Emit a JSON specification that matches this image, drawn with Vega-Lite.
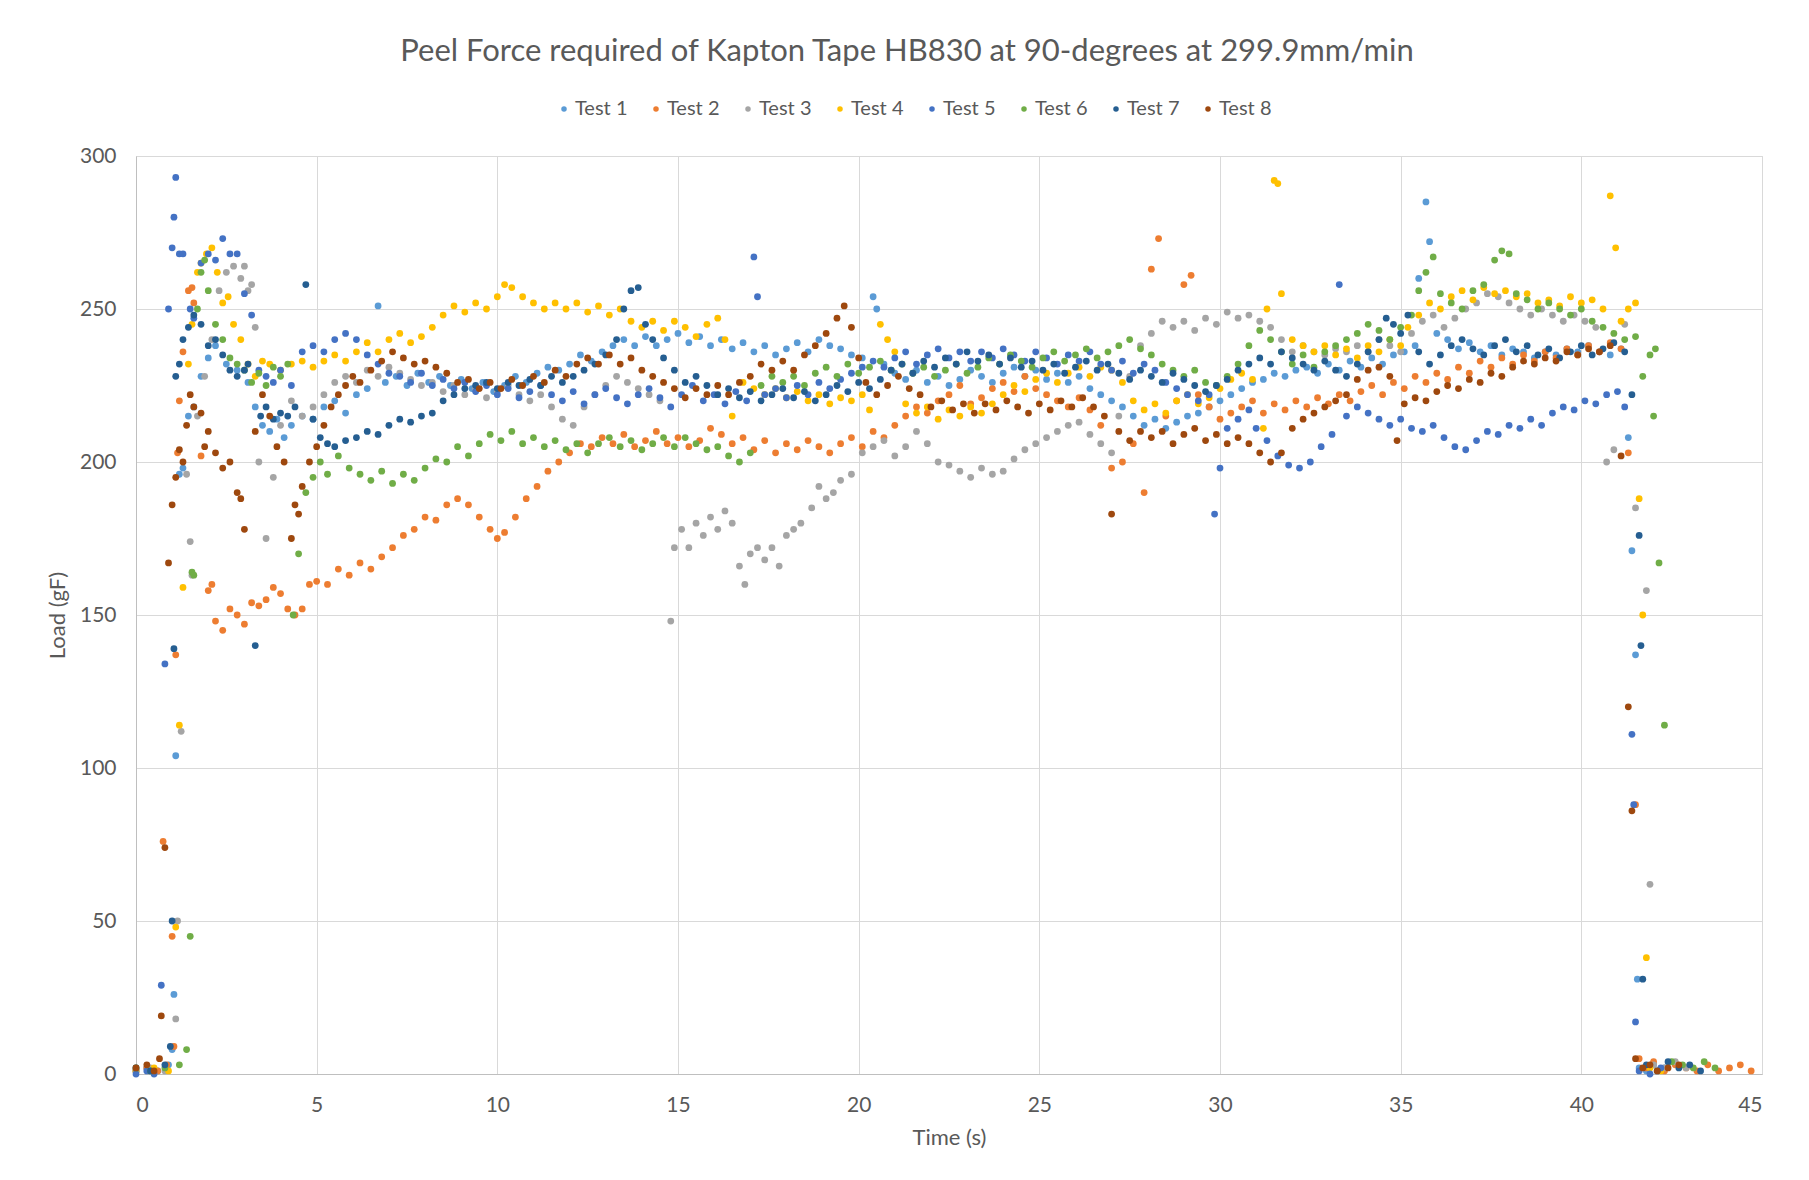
{
"$schema": "https://vega.github.io/schema/vega-lite/v6.json",
"width": 1626, "height": 918,
"autosize": {"type": "none"},
"padding": {"left": 136, "top": 156, "right": 47, "bottom": 106},
"background": "white",
"title": {"text": "Peel Force required of Kapton Tape HB830 at 90-degrees at 299.9mm/min", "anchor": "middle", "frame": "group", "dx": -42, "offset": 31, "font": "Lato", "fontSize": 31, "fontWeight": "normal", "color": "#595959"},
"config": {
 "view": {"stroke": "#D9D9D9"},
 "font": "Lato",
 "axis": {"labelFont": "Lato", "titleFont": "Lato", "labelFontSize": 21, "titleFontSize": 22, "labelColor": "#595959", "titleColor": "#595959", "titleFontWeight": "normal", "ticks": false, "grid": true, "gridColor": "#D9D9D9", "domainColor": "#BFBFBF"}
},
"data": {"values": [
{"s":1,"t":0,"v":1},{"s":1,"t":0.3,"v":2},{"s":1,"t":0.6,"v":1},{"s":1,"t":0.9,"v":3},{"s":1,"t":1.0,"v":8},{"s":1,"t":1.05,"v":26},{"s":1,"t":1.1,"v":104},{"s":1,"t":1.2,"v":196},{"s":1,"t":1.3,"v":198},{"s":1,"t":1.45,"v":215},{"s":1,"t":1.6,"v":218},{"s":1,"t":1.8,"v":228},{"s":1,"t":2.0,"v":234},{"s":1,"t":2.2,"v":238},{"s":1,"t":2.5,"v":232},{"s":1,"t":2.8,"v":230},{"s":1,"t":3.1,"v":226},{"s":1,"t":3.3,"v":218},{"s":1,"t":3.5,"v":212},{"s":1,"t":3.7,"v":210},{"s":1,"t":3.9,"v":214},{"s":1,"t":4.1,"v":208},{"s":1,"t":4.3,"v":212},{"s":1,"t":4.6,"v":215},{"s":1,"t":4.9,"v":214},{"s":1,"t":5.2,"v":218},{"s":1,"t":5.5,"v":220},{"s":1,"t":5.8,"v":216},{"s":1,"t":6.1,"v":222},{"s":1,"t":6.4,"v":224},{"s":1,"t":6.7,"v":251},{"s":1,"t":6.9,"v":226},{"s":1,"t":7.2,"v":228},{"s":1,"t":7.5,"v":225},{"s":1,"t":7.8,"v":229},{"s":1,"t":8.1,"v":226},{"s":1,"t":8.4,"v":228},{"s":1,"t":8.7,"v":225},{"s":1,"t":9.0,"v":227},{"s":1,"t":9.3,"v":224},{"s":1,"t":9.6,"v":226},{"s":1,"t":9.9,"v":223},{"s":1,"t":10.2,"v":225},{"s":1,"t":10.5,"v":228},{"s":1,"t":10.8,"v":226},{"s":1,"t":11.1,"v":229},{"s":1,"t":11.4,"v":231},{"s":1,"t":11.7,"v":230},{"s":1,"t":12.0,"v":232},{"s":1,"t":12.3,"v":235},{"s":1,"t":12.6,"v":233},{"s":1,"t":12.9,"v":236},{"s":1,"t":13.2,"v":238},{"s":1,"t":13.5,"v":240},{"s":1,"t":13.8,"v":238},{"s":1,"t":14.1,"v":241},{"s":1,"t":14.4,"v":238},{"s":1,"t":14.7,"v":240},{"s":1,"t":15.0,"v":242},{"s":1,"t":15.3,"v":239},{"s":1,"t":15.6,"v":241},{"s":1,"t":15.9,"v":238},{"s":1,"t":16.2,"v":240},{"s":1,"t":16.5,"v":237},{"s":1,"t":16.8,"v":239},{"s":1,"t":17.1,"v":236},{"s":1,"t":17.4,"v":238},{"s":1,"t":17.7,"v":235},{"s":1,"t":18.0,"v":237},{"s":1,"t":18.3,"v":239},{"s":1,"t":18.6,"v":236},{"s":1,"t":18.9,"v":240},{"s":1,"t":19.2,"v":238},{"s":1,"t":19.5,"v":237},{"s":1,"t":19.8,"v":235},{"s":1,"t":20.1,"v":234},{"s":1,"t":20.4,"v":254},{"s":1,"t":20.5,"v":250},{"s":1,"t":20.7,"v":232},{"s":1,"t":21.0,"v":229},{"s":1,"t":21.3,"v":227},{"s":1,"t":21.6,"v":230},{"s":1,"t":21.9,"v":226},{"s":1,"t":22.2,"v":228},{"s":1,"t":22.5,"v":225},{"s":1,"t":22.8,"v":227},{"s":1,"t":23.1,"v":230},{"s":1,"t":23.4,"v":228},{"s":1,"t":23.7,"v":226},{"s":1,"t":24.0,"v":229},{"s":1,"t":24.3,"v":231},{"s":1,"t":24.6,"v":228},{"s":1,"t":24.9,"v":230},{"s":1,"t":25.2,"v":227},{"s":1,"t":25.5,"v":229},{"s":1,"t":25.8,"v":226},{"s":1,"t":26.1,"v":228},{"s":1,"t":26.4,"v":224},{"s":1,"t":26.7,"v":222},{"s":1,"t":27.0,"v":220},{"s":1,"t":27.3,"v":218},{"s":1,"t":27.6,"v":215},{"s":1,"t":27.9,"v":212},{"s":1,"t":28.2,"v":214},{"s":1,"t":28.5,"v":211},{"s":1,"t":28.8,"v":213},{"s":1,"t":29.1,"v":215},{"s":1,"t":29.4,"v":216},{"s":1,"t":29.7,"v":218},{"s":1,"t":30.0,"v":220},{"s":1,"t":30.3,"v":222},{"s":1,"t":30.6,"v":224},{"s":1,"t":30.9,"v":226},{"s":1,"t":31.2,"v":227},{"s":1,"t":31.5,"v":229},{"s":1,"t":31.8,"v":228},{"s":1,"t":32.1,"v":230},{"s":1,"t":32.4,"v":231},{"s":1,"t":32.7,"v":229},{"s":1,"t":33.0,"v":232},{"s":1,"t":33.3,"v":230},{"s":1,"t":33.6,"v":233},{"s":1,"t":33.9,"v":231},{"s":1,"t":34.2,"v":234},{"s":1,"t":34.5,"v":232},{"s":1,"t":34.8,"v":235},{"s":1,"t":35.1,"v":236},{"s":1,"t":35.4,"v":238},{"s":1,"t":35.5,"v":260},{"s":1,"t":35.7,"v":285},{"s":1,"t":35.8,"v":272},{"s":1,"t":36.0,"v":242},{"s":1,"t":36.3,"v":240},{"s":1,"t":36.6,"v":237},{"s":1,"t":36.9,"v":239},{"s":1,"t":37.2,"v":236},{"s":1,"t":37.5,"v":238},{"s":1,"t":37.8,"v":235},{"s":1,"t":38.1,"v":237},{"s":1,"t":38.4,"v":236},{"s":1,"t":38.7,"v":234},{"s":1,"t":39.0,"v":236},{"s":1,"t":39.3,"v":235},{"s":1,"t":39.6,"v":237},{"s":1,"t":39.9,"v":236},{"s":1,"t":40.2,"v":238},{"s":1,"t":40.5,"v":236},{"s":1,"t":40.8,"v":235},{"s":1,"t":41.1,"v":237},{"s":1,"t":41.3,"v":208},{"s":1,"t":41.4,"v":171},{"s":1,"t":41.5,"v":137},{"s":1,"t":41.55,"v":31},{"s":1,"t":41.6,"v":2},{"s":1,"t":41.8,"v":1},{"s":1,"t":42.0,"v":3},{"s":1,"t":42.3,"v":2},
{"s":2,"t":0,"v":1},{"s":2,"t":0.3,"v":2},{"s":2,"t":0.6,"v":1},{"s":2,"t":0.75,"v":76},{"s":2,"t":0.85,"v":3},{"s":2,"t":1.0,"v":45},{"s":2,"t":1.05,"v":9},{"s":2,"t":1.1,"v":137},{"s":2,"t":1.15,"v":203},{"s":2,"t":1.2,"v":220},{"s":2,"t":1.3,"v":236},{"s":2,"t":1.45,"v":256},{"s":2,"t":1.55,"v":257},{"s":2,"t":1.6,"v":252},{"s":2,"t":1.8,"v":202},{"s":2,"t":2.0,"v":158},{"s":2,"t":2.1,"v":160},{"s":2,"t":2.2,"v":148},{"s":2,"t":2.4,"v":145},{"s":2,"t":2.6,"v":152},{"s":2,"t":2.8,"v":150},{"s":2,"t":3.0,"v":147},{"s":2,"t":3.2,"v":154},{"s":2,"t":3.4,"v":153},{"s":2,"t":3.6,"v":155},{"s":2,"t":3.8,"v":159},{"s":2,"t":4.0,"v":157},{"s":2,"t":4.2,"v":152},{"s":2,"t":4.4,"v":150},{"s":2,"t":4.6,"v":152},{"s":2,"t":4.8,"v":160},{"s":2,"t":5.0,"v":161},{"s":2,"t":5.3,"v":160},{"s":2,"t":5.6,"v":165},{"s":2,"t":5.9,"v":163},{"s":2,"t":6.2,"v":167},{"s":2,"t":6.5,"v":165},{"s":2,"t":6.8,"v":169},{"s":2,"t":7.1,"v":172},{"s":2,"t":7.4,"v":176},{"s":2,"t":7.7,"v":178},{"s":2,"t":8.0,"v":182},{"s":2,"t":8.3,"v":181},{"s":2,"t":8.6,"v":186},{"s":2,"t":8.9,"v":188},{"s":2,"t":9.2,"v":186},{"s":2,"t":9.5,"v":182},{"s":2,"t":9.8,"v":178},{"s":2,"t":10.0,"v":175},{"s":2,"t":10.2,"v":177},{"s":2,"t":10.5,"v":182},{"s":2,"t":10.8,"v":188},{"s":2,"t":11.1,"v":192},{"s":2,"t":11.4,"v":197},{"s":2,"t":11.7,"v":200},{"s":2,"t":12.0,"v":203},{"s":2,"t":12.3,"v":206},{"s":2,"t":12.6,"v":205},{"s":2,"t":12.9,"v":208},{"s":2,"t":13.2,"v":206},{"s":2,"t":13.5,"v":209},{"s":2,"t":13.8,"v":205},{"s":2,"t":14.1,"v":207},{"s":2,"t":14.4,"v":210},{"s":2,"t":14.7,"v":206},{"s":2,"t":15.0,"v":208},{"s":2,"t":15.3,"v":205},{"s":2,"t":15.6,"v":207},{"s":2,"t":15.9,"v":211},{"s":2,"t":16.2,"v":209},{"s":2,"t":16.5,"v":206},{"s":2,"t":16.8,"v":208},{"s":2,"t":17.1,"v":204},{"s":2,"t":17.4,"v":207},{"s":2,"t":17.7,"v":203},{"s":2,"t":18.0,"v":206},{"s":2,"t":18.3,"v":204},{"s":2,"t":18.6,"v":207},{"s":2,"t":18.9,"v":205},{"s":2,"t":19.2,"v":203},{"s":2,"t":19.5,"v":206},{"s":2,"t":19.8,"v":208},{"s":2,"t":20.1,"v":205},{"s":2,"t":20.4,"v":210},{"s":2,"t":20.7,"v":208},{"s":2,"t":21.0,"v":212},{"s":2,"t":21.3,"v":215},{"s":2,"t":21.6,"v":218},{"s":2,"t":21.9,"v":216},{"s":2,"t":22.2,"v":220},{"s":2,"t":22.5,"v":222},{"s":2,"t":22.8,"v":225},{"s":2,"t":23.1,"v":219},{"s":2,"t":23.4,"v":221},{"s":2,"t":23.7,"v":224},{"s":2,"t":24.0,"v":226},{"s":2,"t":24.3,"v":223},{"s":2,"t":24.6,"v":228},{"s":2,"t":24.9,"v":224},{"s":2,"t":25.2,"v":222},{"s":2,"t":25.5,"v":220},{"s":2,"t":25.8,"v":218},{"s":2,"t":26.1,"v":221},{"s":2,"t":26.4,"v":217},{"s":2,"t":26.7,"v":212},{"s":2,"t":27.0,"v":198},{"s":2,"t":27.3,"v":200},{"s":2,"t":27.6,"v":206},{"s":2,"t":27.9,"v":190},{"s":2,"t":28.1,"v":263},{"s":2,"t":28.3,"v":273},{"s":2,"t":28.5,"v":215},{"s":2,"t":28.8,"v":220},{"s":2,"t":29.0,"v":258},{"s":2,"t":29.2,"v":261},{"s":2,"t":29.4,"v":222},{"s":2,"t":29.7,"v":218},{"s":2,"t":30.0,"v":214},{"s":2,"t":30.3,"v":216},{"s":2,"t":30.6,"v":218},{"s":2,"t":30.9,"v":220},{"s":2,"t":31.2,"v":216},{"s":2,"t":31.5,"v":219},{"s":2,"t":31.8,"v":217},{"s":2,"t":32.1,"v":220},{"s":2,"t":32.4,"v":218},{"s":2,"t":32.7,"v":221},{"s":2,"t":33.0,"v":219},{"s":2,"t":33.3,"v":222},{"s":2,"t":33.6,"v":220},{"s":2,"t":33.9,"v":223},{"s":2,"t":34.2,"v":225},{"s":2,"t":34.5,"v":222},{"s":2,"t":34.8,"v":226},{"s":2,"t":35.1,"v":224},{"s":2,"t":35.4,"v":228},{"s":2,"t":35.7,"v":226},{"s":2,"t":36.0,"v":229},{"s":2,"t":36.3,"v":227},{"s":2,"t":36.6,"v":231},{"s":2,"t":36.9,"v":229},{"s":2,"t":37.2,"v":233},{"s":2,"t":37.5,"v":231},{"s":2,"t":37.8,"v":234},{"s":2,"t":38.1,"v":232},{"s":2,"t":38.4,"v":235},{"s":2,"t":38.7,"v":233},{"s":2,"t":39.0,"v":236},{"s":2,"t":39.3,"v":234},{"s":2,"t":39.6,"v":237},{"s":2,"t":39.9,"v":235},{"s":2,"t":40.2,"v":238},{"s":2,"t":40.5,"v":236},{"s":2,"t":40.8,"v":239},{"s":2,"t":41.1,"v":237},{"s":2,"t":41.3,"v":203},{"s":2,"t":41.5,"v":88},{"s":2,"t":41.6,"v":5},{"s":2,"t":41.8,"v":2},{"s":2,"t":42.0,"v":4},{"s":2,"t":42.3,"v":1},{"s":2,"t":42.6,"v":3},{"s":2,"t":42.9,"v":2},{"s":2,"t":43.2,"v":1},{"s":2,"t":43.5,"v":3},{"s":2,"t":43.8,"v":1},{"s":2,"t":44.1,"v":2},{"s":2,"t":44.4,"v":3},{"s":2,"t":44.7,"v":1},
{"s":3,"t":0,"v":1},{"s":3,"t":0.4,"v":2},{"s":3,"t":0.8,"v":1},{"s":3,"t":1.1,"v":18},{"s":3,"t":1.15,"v":50},{"s":3,"t":1.25,"v":112},{"s":3,"t":1.4,"v":196},{"s":3,"t":1.5,"v":174},{"s":3,"t":1.55,"v":163},{"s":3,"t":1.7,"v":215},{"s":3,"t":1.9,"v":228},{"s":3,"t":2.1,"v":240},{"s":3,"t":2.3,"v":256},{"s":3,"t":2.5,"v":262},{"s":3,"t":2.7,"v":264},{"s":3,"t":2.9,"v":260},{"s":3,"t":3.0,"v":264},{"s":3,"t":3.1,"v":256},{"s":3,"t":3.2,"v":258},{"s":3,"t":3.3,"v":244},{"s":3,"t":3.4,"v":200},{"s":3,"t":3.6,"v":175},{"s":3,"t":3.8,"v":195},{"s":3,"t":4.0,"v":212},{"s":3,"t":4.3,"v":220},{"s":3,"t":4.6,"v":215},{"s":3,"t":4.9,"v":218},{"s":3,"t":5.2,"v":222},{"s":3,"t":5.5,"v":226},{"s":3,"t":5.8,"v":228},{"s":3,"t":6.1,"v":226},{"s":3,"t":6.4,"v":230},{"s":3,"t":6.7,"v":228},{"s":3,"t":7.0,"v":231},{"s":3,"t":7.3,"v":229},{"s":3,"t":7.6,"v":227},{"s":3,"t":7.9,"v":225},{"s":3,"t":8.2,"v":226},{"s":3,"t":8.5,"v":223},{"s":3,"t":8.8,"v":225},{"s":3,"t":9.1,"v":222},{"s":3,"t":9.4,"v":224},{"s":3,"t":9.7,"v":221},{"s":3,"t":10.0,"v":223},{"s":3,"t":10.3,"v":225},{"s":3,"t":10.6,"v":222},{"s":3,"t":10.9,"v":220},{"s":3,"t":11.2,"v":222},{"s":3,"t":11.5,"v":218},{"s":3,"t":11.8,"v":214},{"s":3,"t":12.1,"v":212},{"s":3,"t":12.4,"v":218},{"s":3,"t":12.7,"v":222},{"s":3,"t":13.0,"v":225},{"s":3,"t":13.3,"v":228},{"s":3,"t":13.6,"v":226},{"s":3,"t":13.9,"v":224},{"s":3,"t":14.2,"v":222},{"s":3,"t":14.5,"v":220},{"s":3,"t":14.8,"v":148},{"s":3,"t":14.9,"v":172},{"s":3,"t":15.1,"v":178},{"s":3,"t":15.3,"v":172},{"s":3,"t":15.5,"v":180},{"s":3,"t":15.7,"v":176},{"s":3,"t":15.9,"v":182},{"s":3,"t":16.1,"v":178},{"s":3,"t":16.3,"v":184},{"s":3,"t":16.5,"v":180},{"s":3,"t":16.7,"v":166},{"s":3,"t":16.85,"v":160},{"s":3,"t":17.0,"v":170},{"s":3,"t":17.2,"v":172},{"s":3,"t":17.4,"v":168},{"s":3,"t":17.6,"v":172},{"s":3,"t":17.8,"v":166},{"s":3,"t":18.0,"v":176},{"s":3,"t":18.2,"v":178},{"s":3,"t":18.4,"v":180},{"s":3,"t":18.7,"v":185},{"s":3,"t":18.9,"v":192},{"s":3,"t":19.1,"v":188},{"s":3,"t":19.3,"v":190},{"s":3,"t":19.5,"v":194},{"s":3,"t":19.8,"v":196},{"s":3,"t":20.1,"v":203},{"s":3,"t":20.4,"v":205},{"s":3,"t":20.7,"v":207},{"s":3,"t":21.0,"v":202},{"s":3,"t":21.3,"v":205},{"s":3,"t":21.6,"v":210},{"s":3,"t":21.9,"v":206},{"s":3,"t":22.2,"v":200},{"s":3,"t":22.5,"v":199},{"s":3,"t":22.8,"v":197},{"s":3,"t":23.1,"v":195},{"s":3,"t":23.4,"v":198},{"s":3,"t":23.7,"v":196},{"s":3,"t":24.0,"v":197},{"s":3,"t":24.3,"v":201},{"s":3,"t":24.6,"v":204},{"s":3,"t":24.9,"v":206},{"s":3,"t":25.2,"v":208},{"s":3,"t":25.5,"v":210},{"s":3,"t":25.8,"v":212},{"s":3,"t":26.1,"v":213},{"s":3,"t":26.4,"v":209},{"s":3,"t":26.7,"v":206},{"s":3,"t":27.0,"v":203},{"s":3,"t":27.2,"v":215},{"s":3,"t":27.5,"v":228},{"s":3,"t":27.8,"v":238},{"s":3,"t":28.1,"v":242},{"s":3,"t":28.4,"v":246},{"s":3,"t":28.7,"v":244},{"s":3,"t":29.0,"v":246},{"s":3,"t":29.3,"v":243},{"s":3,"t":29.6,"v":247},{"s":3,"t":29.9,"v":245},{"s":3,"t":30.2,"v":249},{"s":3,"t":30.5,"v":247},{"s":3,"t":30.8,"v":248},{"s":3,"t":31.1,"v":246},{"s":3,"t":31.4,"v":244},{"s":3,"t":31.7,"v":240},{"s":3,"t":32.0,"v":236},{"s":3,"t":32.3,"v":238},{"s":3,"t":32.6,"v":236},{"s":3,"t":32.9,"v":235},{"s":3,"t":33.2,"v":237},{"s":3,"t":33.5,"v":236},{"s":3,"t":33.8,"v":238},{"s":3,"t":34.1,"v":236},{"s":3,"t":34.4,"v":240},{"s":3,"t":34.7,"v":238},{"s":3,"t":35.0,"v":236},{"s":3,"t":35.3,"v":242},{"s":3,"t":35.6,"v":246},{"s":3,"t":35.9,"v":248},{"s":3,"t":36.2,"v":244},{"s":3,"t":36.5,"v":247},{"s":3,"t":36.8,"v":250},{"s":3,"t":37.1,"v":252},{"s":3,"t":37.4,"v":255},{"s":3,"t":37.7,"v":254},{"s":3,"t":38.0,"v":252},{"s":3,"t":38.3,"v":250},{"s":3,"t":38.6,"v":248},{"s":3,"t":38.9,"v":250},{"s":3,"t":39.2,"v":248},{"s":3,"t":39.5,"v":246},{"s":3,"t":39.8,"v":248},{"s":3,"t":40.1,"v":246},{"s":3,"t":40.4,"v":244},{"s":3,"t":40.7,"v":200},{"s":3,"t":40.9,"v":204},{"s":3,"t":41.2,"v":245},{"s":3,"t":41.5,"v":185},{"s":3,"t":41.8,"v":158},{"s":3,"t":41.9,"v":62},{"s":3,"t":42.0,"v":3},{"s":3,"t":42.3,"v":2},{"s":3,"t":42.6,"v":4},{"s":3,"t":42.9,"v":2},
{"s":4,"t":0,"v":1},{"s":4,"t":0.5,"v":2},{"s":4,"t":0.9,"v":1},{"s":4,"t":1.1,"v":48},{"s":4,"t":1.2,"v":114},{"s":4,"t":1.3,"v":159},{"s":4,"t":1.45,"v":232},{"s":4,"t":1.55,"v":245},{"s":4,"t":1.7,"v":262},{"s":4,"t":1.8,"v":265},{"s":4,"t":1.95,"v":268},{"s":4,"t":2.1,"v":270},{"s":4,"t":2.25,"v":262},{"s":4,"t":2.4,"v":252},{"s":4,"t":2.55,"v":254},{"s":4,"t":2.7,"v":245},{"s":4,"t":2.9,"v":240},{"s":4,"t":3.1,"v":232},{"s":4,"t":3.3,"v":228},{"s":4,"t":3.5,"v":233},{"s":4,"t":3.7,"v":232},{"s":4,"t":4.0,"v":230},{"s":4,"t":4.3,"v":232},{"s":4,"t":4.6,"v":233},{"s":4,"t":4.9,"v":231},{"s":4,"t":5.2,"v":233},{"s":4,"t":5.5,"v":235},{"s":4,"t":5.8,"v":233},{"s":4,"t":6.1,"v":236},{"s":4,"t":6.4,"v":239},{"s":4,"t":6.7,"v":236},{"s":4,"t":7.0,"v":240},{"s":4,"t":7.3,"v":242},{"s":4,"t":7.6,"v":239},{"s":4,"t":7.9,"v":241},{"s":4,"t":8.2,"v":244},{"s":4,"t":8.5,"v":248},{"s":4,"t":8.8,"v":251},{"s":4,"t":9.1,"v":249},{"s":4,"t":9.4,"v":252},{"s":4,"t":9.7,"v":250},{"s":4,"t":10.0,"v":254},{"s":4,"t":10.2,"v":258},{"s":4,"t":10.4,"v":257},{"s":4,"t":10.7,"v":254},{"s":4,"t":11.0,"v":252},{"s":4,"t":11.3,"v":250},{"s":4,"t":11.6,"v":252},{"s":4,"t":11.9,"v":250},{"s":4,"t":12.2,"v":252},{"s":4,"t":12.5,"v":249},{"s":4,"t":12.8,"v":251},{"s":4,"t":13.1,"v":248},{"s":4,"t":13.4,"v":250},{"s":4,"t":13.7,"v":246},{"s":4,"t":14.0,"v":244},{"s":4,"t":14.3,"v":246},{"s":4,"t":14.6,"v":243},{"s":4,"t":14.9,"v":246},{"s":4,"t":15.2,"v":244},{"s":4,"t":15.5,"v":241},{"s":4,"t":15.8,"v":245},{"s":4,"t":16.1,"v":247},{"s":4,"t":16.3,"v":240},{"s":4,"t":16.5,"v":215},{"s":4,"t":16.8,"v":226},{"s":4,"t":17.1,"v":224},{"s":4,"t":17.4,"v":222},{"s":4,"t":17.7,"v":224},{"s":4,"t":18.0,"v":221},{"s":4,"t":18.3,"v":223},{"s":4,"t":18.6,"v":220},{"s":4,"t":18.9,"v":222},{"s":4,"t":19.2,"v":219},{"s":4,"t":19.5,"v":221},{"s":4,"t":19.8,"v":220},{"s":4,"t":20.1,"v":222},{"s":4,"t":20.3,"v":217},{"s":4,"t":20.6,"v":245},{"s":4,"t":20.8,"v":240},{"s":4,"t":21.0,"v":236},{"s":4,"t":21.3,"v":219},{"s":4,"t":21.6,"v":216},{"s":4,"t":21.9,"v":218},{"s":4,"t":22.2,"v":214},{"s":4,"t":22.5,"v":217},{"s":4,"t":22.8,"v":215},{"s":4,"t":23.1,"v":218},{"s":4,"t":23.4,"v":216},{"s":4,"t":23.7,"v":219},{"s":4,"t":24.0,"v":222},{"s":4,"t":24.3,"v":225},{"s":4,"t":24.6,"v":223},{"s":4,"t":24.9,"v":227},{"s":4,"t":25.2,"v":229},{"s":4,"t":25.5,"v":226},{"s":4,"t":25.8,"v":229},{"s":4,"t":26.1,"v":231},{"s":4,"t":26.4,"v":228},{"s":4,"t":26.7,"v":231},{"s":4,"t":27.0,"v":230},{"s":4,"t":27.3,"v":226},{"s":4,"t":27.6,"v":220},{"s":4,"t":27.9,"v":217},{"s":4,"t":28.2,"v":219},{"s":4,"t":28.5,"v":216},{"s":4,"t":28.8,"v":220},{"s":4,"t":29.1,"v":222},{"s":4,"t":29.4,"v":219},{"s":4,"t":29.7,"v":221},{"s":4,"t":30.0,"v":224},{"s":4,"t":30.3,"v":227},{"s":4,"t":30.6,"v":229},{"s":4,"t":30.9,"v":227},{"s":4,"t":31.2,"v":211},{"s":4,"t":31.3,"v":250},{"s":4,"t":31.5,"v":292},{"s":4,"t":31.6,"v":291},{"s":4,"t":31.7,"v":255},{"s":4,"t":32.0,"v":240},{"s":4,"t":32.3,"v":238},{"s":4,"t":32.6,"v":236},{"s":4,"t":32.9,"v":238},{"s":4,"t":33.2,"v":235},{"s":4,"t":33.5,"v":237},{"s":4,"t":33.8,"v":234},{"s":4,"t":34.1,"v":238},{"s":4,"t":34.4,"v":236},{"s":4,"t":34.7,"v":240},{"s":4,"t":35.0,"v":238},{"s":4,"t":35.2,"v":244},{"s":4,"t":35.5,"v":248},{"s":4,"t":35.8,"v":252},{"s":4,"t":36.1,"v":250},{"s":4,"t":36.4,"v":254},{"s":4,"t":36.7,"v":256},{"s":4,"t":37.0,"v":253},{"s":4,"t":37.3,"v":257},{"s":4,"t":37.6,"v":255},{"s":4,"t":37.9,"v":256},{"s":4,"t":38.2,"v":254},{"s":4,"t":38.5,"v":255},{"s":4,"t":38.8,"v":252},{"s":4,"t":39.1,"v":253},{"s":4,"t":39.4,"v":251},{"s":4,"t":39.7,"v":254},{"s":4,"t":40.0,"v":252},{"s":4,"t":40.3,"v":253},{"s":4,"t":40.6,"v":250},{"s":4,"t":40.8,"v":287},{"s":4,"t":40.95,"v":270},{"s":4,"t":41.1,"v":246},{"s":4,"t":41.3,"v":250},{"s":4,"t":41.5,"v":252},{"s":4,"t":41.6,"v":188},{"s":4,"t":41.7,"v":150},{"s":4,"t":41.8,"v":38},{"s":4,"t":41.9,"v":2},{"s":4,"t":42.2,"v":1},
{"s":5,"t":0,"v":0},{"s":5,"t":0.3,"v":1},{"s":5,"t":0.5,"v":0},{"s":5,"t":0.7,"v":29},{"s":5,"t":0.8,"v":134},{"s":5,"t":0.9,"v":250},{"s":5,"t":1.0,"v":270},{"s":5,"t":1.05,"v":280},{"s":5,"t":1.1,"v":293},{"s":5,"t":1.2,"v":268},{"s":5,"t":1.3,"v":268},{"s":5,"t":1.5,"v":250},{"s":5,"t":1.6,"v":247},{"s":5,"t":1.8,"v":265},{"s":5,"t":2.0,"v":268},{"s":5,"t":2.2,"v":266},{"s":5,"t":2.4,"v":273},{"s":5,"t":2.6,"v":268},{"s":5,"t":2.8,"v":268},{"s":5,"t":3.0,"v":255},{"s":5,"t":3.2,"v":248},{"s":5,"t":3.4,"v":230},{"s":5,"t":3.6,"v":228},{"s":5,"t":3.8,"v":226},{"s":5,"t":4.0,"v":230},{"s":5,"t":4.3,"v":225},{"s":5,"t":4.6,"v":236},{"s":5,"t":4.9,"v":238},{"s":5,"t":5.2,"v":236},{"s":5,"t":5.5,"v":240},{"s":5,"t":5.8,"v":242},{"s":5,"t":6.1,"v":240},{"s":5,"t":6.4,"v":235},{"s":5,"t":6.7,"v":232},{"s":5,"t":7.0,"v":229},{"s":5,"t":7.3,"v":228},{"s":5,"t":7.6,"v":226},{"s":5,"t":7.9,"v":229},{"s":5,"t":8.2,"v":225},{"s":5,"t":8.5,"v":227},{"s":5,"t":8.8,"v":224},{"s":5,"t":9.1,"v":226},{"s":5,"t":9.4,"v":223},{"s":5,"t":9.7,"v":225},{"s":5,"t":10.0,"v":222},{"s":5,"t":10.3,"v":224},{"s":5,"t":10.6,"v":221},{"s":5,"t":10.9,"v":223},{"s":5,"t":11.2,"v":225},{"s":5,"t":11.5,"v":222},{"s":5,"t":11.8,"v":220},{"s":5,"t":12.1,"v":223},{"s":5,"t":12.4,"v":219},{"s":5,"t":12.7,"v":222},{"s":5,"t":13.0,"v":224},{"s":5,"t":13.3,"v":221},{"s":5,"t":13.6,"v":219},{"s":5,"t":13.9,"v":222},{"s":5,"t":14.2,"v":224},{"s":5,"t":14.5,"v":221},{"s":5,"t":14.8,"v":218},{"s":5,"t":15.1,"v":222},{"s":5,"t":15.4,"v":225},{"s":5,"t":15.7,"v":220},{"s":5,"t":16.0,"v":222},{"s":5,"t":16.3,"v":219},{"s":5,"t":16.6,"v":223},{"s":5,"t":16.9,"v":220},{"s":5,"t":17.1,"v":267},{"s":5,"t":17.2,"v":254},{"s":5,"t":17.4,"v":222},{"s":5,"t":17.7,"v":224},{"s":5,"t":18.0,"v":221},{"s":5,"t":18.3,"v":225},{"s":5,"t":18.6,"v":222},{"s":5,"t":18.9,"v":226},{"s":5,"t":19.2,"v":224},{"s":5,"t":19.5,"v":227},{"s":5,"t":19.8,"v":229},{"s":5,"t":20.1,"v":231},{"s":5,"t":20.4,"v":233},{"s":5,"t":20.7,"v":231},{"s":5,"t":21.0,"v":234},{"s":5,"t":21.3,"v":236},{"s":5,"t":21.6,"v":232},{"s":5,"t":21.9,"v":235},{"s":5,"t":22.2,"v":237},{"s":5,"t":22.5,"v":234},{"s":5,"t":22.8,"v":236},{"s":5,"t":23.1,"v":233},{"s":5,"t":23.4,"v":236},{"s":5,"t":23.7,"v":234},{"s":5,"t":24.0,"v":237},{"s":5,"t":24.3,"v":235},{"s":5,"t":24.6,"v":233},{"s":5,"t":24.9,"v":236},{"s":5,"t":25.2,"v":234},{"s":5,"t":25.5,"v":232},{"s":5,"t":25.8,"v":235},{"s":5,"t":26.1,"v":233},{"s":5,"t":26.4,"v":236},{"s":5,"t":26.7,"v":232},{"s":5,"t":27.0,"v":230},{"s":5,"t":27.3,"v":233},{"s":5,"t":27.6,"v":229},{"s":5,"t":27.9,"v":232},{"s":5,"t":28.2,"v":230},{"s":5,"t":28.5,"v":226},{"s":5,"t":28.8,"v":224},{"s":5,"t":29.1,"v":222},{"s":5,"t":29.4,"v":220},{"s":5,"t":29.7,"v":222},{"s":5,"t":29.85,"v":183},{"s":5,"t":30.0,"v":198},{"s":5,"t":30.2,"v":211},{"s":5,"t":30.5,"v":214},{"s":5,"t":30.8,"v":217},{"s":5,"t":31.0,"v":211},{"s":5,"t":31.3,"v":207},{"s":5,"t":31.6,"v":202},{"s":5,"t":31.9,"v":199},{"s":5,"t":32.2,"v":198},{"s":5,"t":32.5,"v":200},{"s":5,"t":32.8,"v":205},{"s":5,"t":33.1,"v":209},{"s":5,"t":33.3,"v":258},{"s":5,"t":33.5,"v":215},{"s":5,"t":33.8,"v":218},{"s":5,"t":34.1,"v":216},{"s":5,"t":34.4,"v":214},{"s":5,"t":34.7,"v":212},{"s":5,"t":35.0,"v":214},{"s":5,"t":35.3,"v":211},{"s":5,"t":35.6,"v":210},{"s":5,"t":35.9,"v":212},{"s":5,"t":36.2,"v":208},{"s":5,"t":36.5,"v":205},{"s":5,"t":36.8,"v":204},{"s":5,"t":37.1,"v":207},{"s":5,"t":37.4,"v":210},{"s":5,"t":37.7,"v":209},{"s":5,"t":38.0,"v":212},{"s":5,"t":38.3,"v":211},{"s":5,"t":38.6,"v":214},{"s":5,"t":38.9,"v":212},{"s":5,"t":39.2,"v":216},{"s":5,"t":39.5,"v":218},{"s":5,"t":39.8,"v":217},{"s":5,"t":40.1,"v":220},{"s":5,"t":40.4,"v":219},{"s":5,"t":40.7,"v":222},{"s":5,"t":41.0,"v":223},{"s":5,"t":41.2,"v":218},{"s":5,"t":41.4,"v":111},{"s":5,"t":41.45,"v":88},{"s":5,"t":41.5,"v":17},{"s":5,"t":41.6,"v":1},{"s":5,"t":41.9,"v":0},{"s":5,"t":42.2,"v":2},
{"s":6,"t":0,"v":2},{"s":6,"t":0.4,"v":1},{"s":6,"t":0.8,"v":2},{"s":6,"t":1.2,"v":3},{"s":6,"t":1.4,"v":8},{"s":6,"t":1.5,"v":45},{"s":6,"t":1.55,"v":164},{"s":6,"t":1.6,"v":163},{"s":6,"t":1.7,"v":250},{"s":6,"t":1.8,"v":262},{"s":6,"t":1.9,"v":266},{"s":6,"t":2.0,"v":256},{"s":6,"t":2.2,"v":245},{"s":6,"t":2.4,"v":240},{"s":6,"t":2.6,"v":234},{"s":6,"t":2.8,"v":232},{"s":6,"t":3.0,"v":230},{"s":6,"t":3.2,"v":226},{"s":6,"t":3.4,"v":229},{"s":6,"t":3.6,"v":225},{"s":6,"t":3.8,"v":231},{"s":6,"t":4.0,"v":228},{"s":6,"t":4.2,"v":232},{"s":6,"t":4.35,"v":150},{"s":6,"t":4.5,"v":170},{"s":6,"t":4.7,"v":190},{"s":6,"t":4.9,"v":195},{"s":6,"t":5.1,"v":200},{"s":6,"t":5.3,"v":196},{"s":6,"t":5.6,"v":202},{"s":6,"t":5.9,"v":198},{"s":6,"t":6.2,"v":196},{"s":6,"t":6.5,"v":194},{"s":6,"t":6.8,"v":197},{"s":6,"t":7.1,"v":193},{"s":6,"t":7.4,"v":196},{"s":6,"t":7.7,"v":194},{"s":6,"t":8.0,"v":198},{"s":6,"t":8.3,"v":201},{"s":6,"t":8.6,"v":200},{"s":6,"t":8.9,"v":205},{"s":6,"t":9.2,"v":202},{"s":6,"t":9.5,"v":206},{"s":6,"t":9.8,"v":209},{"s":6,"t":10.1,"v":207},{"s":6,"t":10.4,"v":210},{"s":6,"t":10.7,"v":206},{"s":6,"t":11.0,"v":208},{"s":6,"t":11.3,"v":205},{"s":6,"t":11.6,"v":207},{"s":6,"t":11.9,"v":204},{"s":6,"t":12.2,"v":206},{"s":6,"t":12.5,"v":203},{"s":6,"t":12.8,"v":206},{"s":6,"t":13.1,"v":208},{"s":6,"t":13.4,"v":205},{"s":6,"t":13.7,"v":207},{"s":6,"t":14.0,"v":204},{"s":6,"t":14.3,"v":206},{"s":6,"t":14.6,"v":208},{"s":6,"t":14.9,"v":205},{"s":6,"t":15.2,"v":208},{"s":6,"t":15.5,"v":206},{"s":6,"t":15.8,"v":204},{"s":6,"t":16.1,"v":205},{"s":6,"t":16.4,"v":202},{"s":6,"t":16.7,"v":200},{"s":6,"t":17.0,"v":203},{"s":6,"t":17.3,"v":225},{"s":6,"t":17.6,"v":228},{"s":6,"t":17.9,"v":226},{"s":6,"t":18.2,"v":228},{"s":6,"t":18.5,"v":225},{"s":6,"t":18.8,"v":229},{"s":6,"t":19.1,"v":231},{"s":6,"t":19.4,"v":228},{"s":6,"t":19.7,"v":232},{"s":6,"t":20.0,"v":229},{"s":6,"t":20.3,"v":231},{"s":6,"t":20.6,"v":233},{"s":6,"t":20.9,"v":230},{"s":6,"t":21.2,"v":232},{"s":6,"t":21.5,"v":229},{"s":6,"t":21.8,"v":231},{"s":6,"t":22.1,"v":228},{"s":6,"t":22.4,"v":230},{"s":6,"t":22.7,"v":232},{"s":6,"t":23.0,"v":229},{"s":6,"t":23.3,"v":231},{"s":6,"t":23.6,"v":234},{"s":6,"t":23.9,"v":232},{"s":6,"t":24.2,"v":235},{"s":6,"t":24.5,"v":233},{"s":6,"t":24.8,"v":231},{"s":6,"t":25.1,"v":234},{"s":6,"t":25.4,"v":236},{"s":6,"t":25.7,"v":233},{"s":6,"t":26.0,"v":235},{"s":6,"t":26.3,"v":237},{"s":6,"t":26.6,"v":234},{"s":6,"t":26.9,"v":236},{"s":6,"t":27.2,"v":238},{"s":6,"t":27.5,"v":240},{"s":6,"t":27.8,"v":237},{"s":6,"t":28.1,"v":235},{"s":6,"t":28.4,"v":232},{"s":6,"t":28.7,"v":230},{"s":6,"t":29.0,"v":228},{"s":6,"t":29.3,"v":230},{"s":6,"t":29.6,"v":226},{"s":6,"t":29.9,"v":225},{"s":6,"t":30.2,"v":228},{"s":6,"t":30.5,"v":232},{"s":6,"t":30.8,"v":238},{"s":6,"t":31.1,"v":243},{"s":6,"t":31.4,"v":240},{"s":6,"t":31.7,"v":236},{"s":6,"t":32.0,"v":232},{"s":6,"t":32.3,"v":235},{"s":6,"t":32.6,"v":231},{"s":6,"t":32.9,"v":236},{"s":6,"t":33.2,"v":238},{"s":6,"t":33.5,"v":240},{"s":6,"t":33.8,"v":242},{"s":6,"t":34.1,"v":245},{"s":6,"t":34.4,"v":243},{"s":6,"t":34.7,"v":240},{"s":6,"t":35.0,"v":244},{"s":6,"t":35.3,"v":248},{"s":6,"t":35.5,"v":256},{"s":6,"t":35.7,"v":262},{"s":6,"t":35.9,"v":267},{"s":6,"t":36.1,"v":255},{"s":6,"t":36.4,"v":252},{"s":6,"t":36.7,"v":250},{"s":6,"t":37.0,"v":256},{"s":6,"t":37.3,"v":258},{"s":6,"t":37.6,"v":266},{"s":6,"t":37.8,"v":269},{"s":6,"t":38.0,"v":268},{"s":6,"t":38.2,"v":255},{"s":6,"t":38.5,"v":253},{"s":6,"t":38.8,"v":250},{"s":6,"t":39.1,"v":252},{"s":6,"t":39.4,"v":250},{"s":6,"t":39.7,"v":248},{"s":6,"t":40.0,"v":250},{"s":6,"t":40.3,"v":246},{"s":6,"t":40.6,"v":244},{"s":6,"t":40.9,"v":242},{"s":6,"t":41.2,"v":240},{"s":6,"t":41.5,"v":241},{"s":6,"t":41.7,"v":228},{"s":6,"t":41.9,"v":235},{"s":6,"t":42.0,"v":215},{"s":6,"t":42.05,"v":237},{"s":6,"t":42.15,"v":167},{"s":6,"t":42.3,"v":114},{"s":6,"t":42.5,"v":4},{"s":6,"t":42.8,"v":3},{"s":6,"t":43.1,"v":2},{"s":6,"t":43.4,"v":4},{"s":6,"t":43.7,"v":2},
{"s":7,"t":0,"v":2},{"s":7,"t":0.4,"v":1},{"s":7,"t":0.8,"v":3},{"s":7,"t":0.95,"v":9},{"s":7,"t":1.0,"v":50},{"s":7,"t":1.05,"v":139},{"s":7,"t":1.1,"v":228},{"s":7,"t":1.2,"v":232},{"s":7,"t":1.3,"v":240},{"s":7,"t":1.45,"v":244},{"s":7,"t":1.6,"v":248},{"s":7,"t":1.8,"v":245},{"s":7,"t":2.0,"v":238},{"s":7,"t":2.2,"v":240},{"s":7,"t":2.4,"v":235},{"s":7,"t":2.6,"v":230},{"s":7,"t":2.8,"v":228},{"s":7,"t":3.0,"v":230},{"s":7,"t":3.1,"v":232},{"s":7,"t":3.3,"v":140},{"s":7,"t":3.45,"v":215},{"s":7,"t":3.6,"v":218},{"s":7,"t":3.8,"v":214},{"s":7,"t":4.0,"v":216},{"s":7,"t":4.2,"v":215},{"s":7,"t":4.4,"v":218},{"s":7,"t":4.7,"v":258},{"s":7,"t":4.9,"v":214},{"s":7,"t":5.1,"v":208},{"s":7,"t":5.3,"v":206},{"s":7,"t":5.5,"v":205},{"s":7,"t":5.8,"v":207},{"s":7,"t":6.1,"v":208},{"s":7,"t":6.4,"v":210},{"s":7,"t":6.7,"v":209},{"s":7,"t":7.0,"v":212},{"s":7,"t":7.3,"v":214},{"s":7,"t":7.6,"v":213},{"s":7,"t":7.9,"v":215},{"s":7,"t":8.2,"v":216},{"s":7,"t":8.5,"v":220},{"s":7,"t":8.8,"v":222},{"s":7,"t":9.1,"v":224},{"s":7,"t":9.4,"v":225},{"s":7,"t":9.7,"v":226},{"s":7,"t":10.0,"v":224},{"s":7,"t":10.3,"v":226},{"s":7,"t":10.6,"v":225},{"s":7,"t":10.9,"v":227},{"s":7,"t":11.2,"v":225},{"s":7,"t":11.5,"v":228},{"s":7,"t":11.8,"v":226},{"s":7,"t":12.1,"v":228},{"s":7,"t":12.4,"v":230},{"s":7,"t":12.7,"v":232},{"s":7,"t":13.0,"v":235},{"s":7,"t":13.3,"v":240},{"s":7,"t":13.5,"v":250},{"s":7,"t":13.7,"v":256},{"s":7,"t":13.9,"v":257},{"s":7,"t":14.1,"v":245},{"s":7,"t":14.3,"v":240},{"s":7,"t":14.6,"v":234},{"s":7,"t":14.9,"v":230},{"s":7,"t":15.2,"v":226},{"s":7,"t":15.5,"v":228},{"s":7,"t":15.8,"v":225},{"s":7,"t":16.1,"v":222},{"s":7,"t":16.4,"v":224},{"s":7,"t":16.7,"v":221},{"s":7,"t":17.0,"v":223},{"s":7,"t":17.3,"v":220},{"s":7,"t":17.6,"v":222},{"s":7,"t":17.9,"v":224},{"s":7,"t":18.2,"v":221},{"s":7,"t":18.5,"v":223},{"s":7,"t":18.8,"v":220},{"s":7,"t":19.1,"v":222},{"s":7,"t":19.4,"v":225},{"s":7,"t":19.7,"v":223},{"s":7,"t":20.0,"v":226},{"s":7,"t":20.3,"v":224},{"s":7,"t":20.6,"v":227},{"s":7,"t":20.9,"v":230},{"s":7,"t":21.2,"v":232},{"s":7,"t":21.5,"v":229},{"s":7,"t":21.8,"v":233},{"s":7,"t":22.1,"v":231},{"s":7,"t":22.4,"v":234},{"s":7,"t":22.7,"v":232},{"s":7,"t":23.0,"v":236},{"s":7,"t":23.3,"v":233},{"s":7,"t":23.6,"v":235},{"s":7,"t":23.9,"v":232},{"s":7,"t":24.2,"v":234},{"s":7,"t":24.5,"v":231},{"s":7,"t":24.8,"v":233},{"s":7,"t":25.1,"v":230},{"s":7,"t":25.4,"v":232},{"s":7,"t":25.7,"v":229},{"s":7,"t":26.0,"v":231},{"s":7,"t":26.3,"v":233},{"s":7,"t":26.6,"v":230},{"s":7,"t":26.9,"v":232},{"s":7,"t":27.2,"v":229},{"s":7,"t":27.5,"v":227},{"s":7,"t":27.8,"v":230},{"s":7,"t":28.1,"v":228},{"s":7,"t":28.4,"v":226},{"s":7,"t":28.7,"v":229},{"s":7,"t":29.0,"v":227},{"s":7,"t":29.3,"v":225},{"s":7,"t":29.6,"v":223},{"s":7,"t":29.9,"v":225},{"s":7,"t":30.2,"v":227},{"s":7,"t":30.5,"v":230},{"s":7,"t":30.8,"v":232},{"s":7,"t":31.1,"v":234},{"s":7,"t":31.4,"v":232},{"s":7,"t":31.7,"v":236},{"s":7,"t":32.0,"v":234},{"s":7,"t":32.3,"v":232},{"s":7,"t":32.6,"v":230},{"s":7,"t":32.9,"v":233},{"s":7,"t":33.2,"v":230},{"s":7,"t":33.5,"v":228},{"s":7,"t":33.8,"v":232},{"s":7,"t":34.1,"v":236},{"s":7,"t":34.4,"v":240},{"s":7,"t":34.6,"v":247},{"s":7,"t":34.8,"v":245},{"s":7,"t":35.0,"v":242},{"s":7,"t":35.2,"v":248},{"s":7,"t":35.5,"v":236},{"s":7,"t":35.8,"v":232},{"s":7,"t":36.1,"v":235},{"s":7,"t":36.4,"v":238},{"s":7,"t":36.7,"v":240},{"s":7,"t":37.0,"v":237},{"s":7,"t":37.3,"v":235},{"s":7,"t":37.6,"v":238},{"s":7,"t":37.9,"v":240},{"s":7,"t":38.2,"v":236},{"s":7,"t":38.5,"v":238},{"s":7,"t":38.8,"v":235},{"s":7,"t":39.1,"v":237},{"s":7,"t":39.4,"v":234},{"s":7,"t":39.7,"v":236},{"s":7,"t":40.0,"v":238},{"s":7,"t":40.3,"v":235},{"s":7,"t":40.6,"v":237},{"s":7,"t":40.9,"v":239},{"s":7,"t":41.2,"v":236},{"s":7,"t":41.4,"v":222},{"s":7,"t":41.6,"v":176},{"s":7,"t":41.65,"v":140},{"s":7,"t":41.7,"v":31},{"s":7,"t":41.8,"v":3},{"s":7,"t":42.1,"v":1},{"s":7,"t":42.4,"v":4},{"s":7,"t":42.7,"v":2},{"s":7,"t":43.0,"v":3},{"s":7,"t":43.3,"v":1},
{"s":8,"t":0,"v":2},{"s":8,"t":0.3,"v":3},{"s":8,"t":0.5,"v":1},{"s":8,"t":0.65,"v":5},{"s":8,"t":0.7,"v":19},{"s":8,"t":0.8,"v":74},{"s":8,"t":0.9,"v":167},{"s":8,"t":1.0,"v":186},{"s":8,"t":1.1,"v":195},{"s":8,"t":1.2,"v":204},{"s":8,"t":1.3,"v":200},{"s":8,"t":1.4,"v":212},{"s":8,"t":1.5,"v":222},{"s":8,"t":1.6,"v":218},{"s":8,"t":1.8,"v":216},{"s":8,"t":1.9,"v":205},{"s":8,"t":2.0,"v":210},{"s":8,"t":2.2,"v":203},{"s":8,"t":2.4,"v":198},{"s":8,"t":2.6,"v":200},{"s":8,"t":2.8,"v":190},{"s":8,"t":2.9,"v":188},{"s":8,"t":3.0,"v":178},{"s":8,"t":3.3,"v":210},{"s":8,"t":3.5,"v":222},{"s":8,"t":3.7,"v":215},{"s":8,"t":3.9,"v":205},{"s":8,"t":4.1,"v":200},{"s":8,"t":4.3,"v":175},{"s":8,"t":4.4,"v":186},{"s":8,"t":4.5,"v":183},{"s":8,"t":4.6,"v":192},{"s":8,"t":4.8,"v":200},{"s":8,"t":5.0,"v":205},{"s":8,"t":5.2,"v":212},{"s":8,"t":5.4,"v":218},{"s":8,"t":5.6,"v":222},{"s":8,"t":5.8,"v":225},{"s":8,"t":6.0,"v":228},{"s":8,"t":6.2,"v":226},{"s":8,"t":6.5,"v":230},{"s":8,"t":6.8,"v":233},{"s":8,"t":7.1,"v":236},{"s":8,"t":7.4,"v":234},{"s":8,"t":7.7,"v":232},{"s":8,"t":8.0,"v":233},{"s":8,"t":8.3,"v":231},{"s":8,"t":8.6,"v":229},{"s":8,"t":8.9,"v":226},{"s":8,"t":9.2,"v":227},{"s":8,"t":9.5,"v":224},{"s":8,"t":9.8,"v":226},{"s":8,"t":10.1,"v":224},{"s":8,"t":10.4,"v":227},{"s":8,"t":10.7,"v":225},{"s":8,"t":11.0,"v":228},{"s":8,"t":11.3,"v":226},{"s":8,"t":11.6,"v":230},{"s":8,"t":11.9,"v":228},{"s":8,"t":12.2,"v":232},{"s":8,"t":12.5,"v":234},{"s":8,"t":12.8,"v":232},{"s":8,"t":13.1,"v":235},{"s":8,"t":13.4,"v":232},{"s":8,"t":13.7,"v":234},{"s":8,"t":14.0,"v":230},{"s":8,"t":14.3,"v":228},{"s":8,"t":14.6,"v":226},{"s":8,"t":14.9,"v":224},{"s":8,"t":15.2,"v":221},{"s":8,"t":15.5,"v":224},{"s":8,"t":15.8,"v":222},{"s":8,"t":16.1,"v":225},{"s":8,"t":16.4,"v":222},{"s":8,"t":16.7,"v":226},{"s":8,"t":17.0,"v":228},{"s":8,"t":17.3,"v":232},{"s":8,"t":17.6,"v":230},{"s":8,"t":17.9,"v":233},{"s":8,"t":18.2,"v":230},{"s":8,"t":18.5,"v":235},{"s":8,"t":18.8,"v":238},{"s":8,"t":19.1,"v":242},{"s":8,"t":19.4,"v":247},{"s":8,"t":19.6,"v":251},{"s":8,"t":19.8,"v":244},{"s":8,"t":20.0,"v":234},{"s":8,"t":20.2,"v":226},{"s":8,"t":20.5,"v":222},{"s":8,"t":20.8,"v":225},{"s":8,"t":21.1,"v":228},{"s":8,"t":21.4,"v":224},{"s":8,"t":21.7,"v":222},{"s":8,"t":22.0,"v":218},{"s":8,"t":22.3,"v":220},{"s":8,"t":22.6,"v":217},{"s":8,"t":22.9,"v":219},{"s":8,"t":23.2,"v":216},{"s":8,"t":23.5,"v":219},{"s":8,"t":23.8,"v":217},{"s":8,"t":24.1,"v":220},{"s":8,"t":24.4,"v":218},{"s":8,"t":24.7,"v":216},{"s":8,"t":25.0,"v":219},{"s":8,"t":25.3,"v":217},{"s":8,"t":25.6,"v":220},{"s":8,"t":25.9,"v":218},{"s":8,"t":26.2,"v":221},{"s":8,"t":26.5,"v":218},{"s":8,"t":26.8,"v":215},{"s":8,"t":27.0,"v":183},{"s":8,"t":27.2,"v":210},{"s":8,"t":27.5,"v":207},{"s":8,"t":27.8,"v":210},{"s":8,"t":28.1,"v":208},{"s":8,"t":28.4,"v":210},{"s":8,"t":28.7,"v":206},{"s":8,"t":29.0,"v":209},{"s":8,"t":29.3,"v":211},{"s":8,"t":29.6,"v":207},{"s":8,"t":29.9,"v":209},{"s":8,"t":30.2,"v":206},{"s":8,"t":30.5,"v":208},{"s":8,"t":30.8,"v":206},{"s":8,"t":31.1,"v":203},{"s":8,"t":31.4,"v":200},{"s":8,"t":31.7,"v":203},{"s":8,"t":32.0,"v":211},{"s":8,"t":32.3,"v":214},{"s":8,"t":32.6,"v":216},{"s":8,"t":32.9,"v":218},{"s":8,"t":33.2,"v":220},{"s":8,"t":33.5,"v":222},{"s":8,"t":33.8,"v":227},{"s":8,"t":34.1,"v":230},{"s":8,"t":34.4,"v":231},{"s":8,"t":34.7,"v":228},{"s":8,"t":34.9,"v":207},{"s":8,"t":35.1,"v":219},{"s":8,"t":35.4,"v":221},{"s":8,"t":35.7,"v":220},{"s":8,"t":36.0,"v":223},{"s":8,"t":36.3,"v":225},{"s":8,"t":36.6,"v":224},{"s":8,"t":36.9,"v":227},{"s":8,"t":37.2,"v":226},{"s":8,"t":37.5,"v":229},{"s":8,"t":37.8,"v":228},{"s":8,"t":38.1,"v":231},{"s":8,"t":38.4,"v":233},{"s":8,"t":38.7,"v":232},{"s":8,"t":39.0,"v":234},{"s":8,"t":39.3,"v":233},{"s":8,"t":39.6,"v":236},{"s":8,"t":39.9,"v":235},{"s":8,"t":40.2,"v":237},{"s":8,"t":40.5,"v":236},{"s":8,"t":40.8,"v":238},{"s":8,"t":41.1,"v":202},{"s":8,"t":41.3,"v":120},{"s":8,"t":41.4,"v":86},{"s":8,"t":41.5,"v":5},{"s":8,"t":41.7,"v":2},{"s":8,"t":41.9,"v":3},{"s":8,"t":42.1,"v":1},{"s":8,"t":42.4,"v":2},{"s":8,"t":42.7,"v":3}
]},
"mark": {"type": "point", "filled": true, "size": 46, "opacity": 1},
"encoding": {
 "x": {"field": "t", "type": "quantitative", "scale": {"domain": [0, 45], "nice": false},
  "axis": {"values": [0, 5, 10, 15, 20, 25, 30, 35, 40, 45], "title": "Time (s)", "labelPadding": 20, "titlePadding": 12}},
 "y": {"field": "v", "type": "quantitative", "scale": {"domain": [0, 300], "nice": false},
  "axis": {"values": [0, 50, 100, 150, 200, 250, 300], "title": "Load (gF)", "labelPadding": 20, "titlePadding": 10}},
 "color": {"field": "s", "type": "nominal",
  "scale": {"domain": [1, 2, 3, 4, 5, 6, 7, 8], "range": ["#5B9BD5", "#ED7D31", "#A5A5A5", "#FFC000", "#4472C4", "#70AD47", "#255E91", "#9E480E"]},
  "legend": {"orient": "none", "legendX": 418, "legendY": -57, "direction": "horizontal", "columns": 8, "title": null, "symbolType": "circle", "symbolSize": 30, "symbolStrokeWidth": 0, "labelFont": "Lato", "labelFontSize": 20, "labelColor": "#595959", "labelOffset": 1, "columnPadding": 18, "labelExpr": "'Test ' + datum.label"}}
}
}
